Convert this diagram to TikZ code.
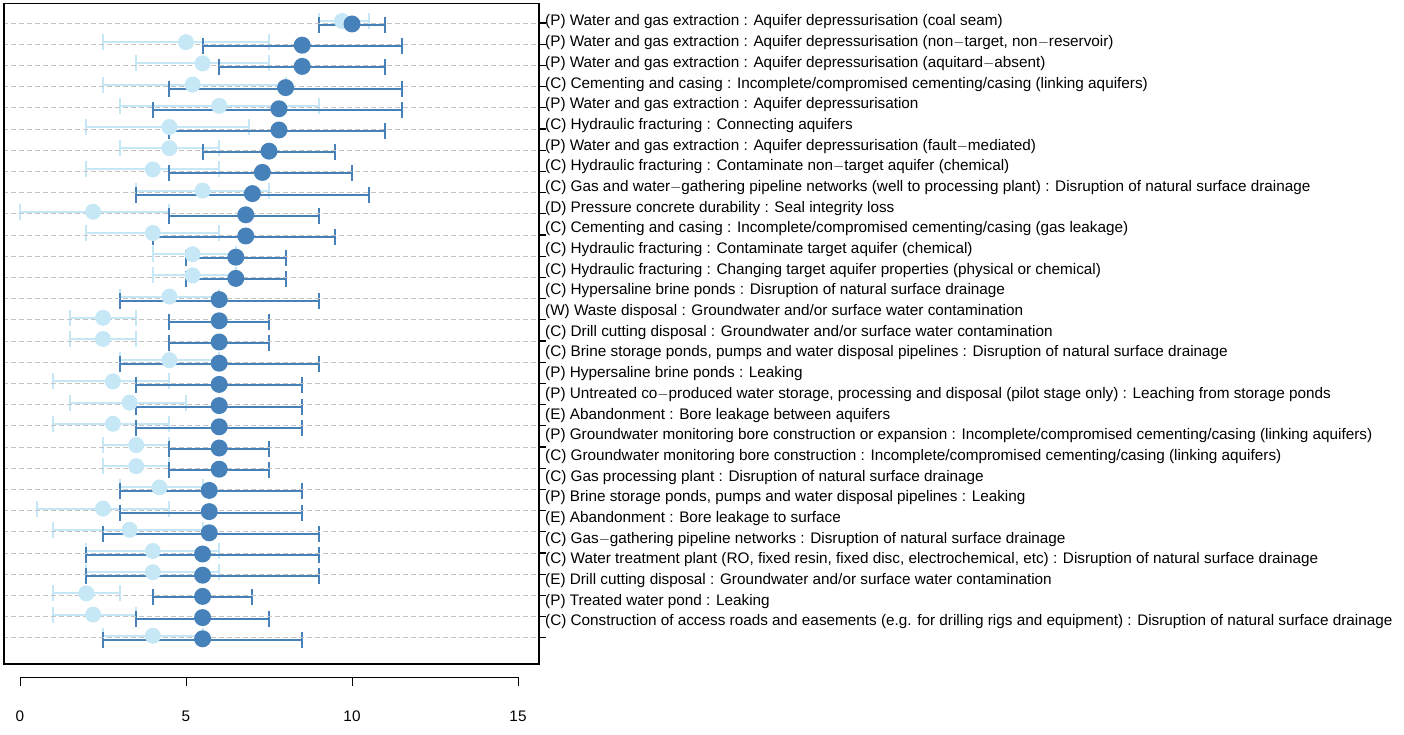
\documentclass[tikz,border=0pt]{standalone}
\usepackage{fontspec}
\setmainfont{Liberation Sans}
\definecolor{dk}{RGB}{70,130,185}
\definecolor{lt}{RGB}{198,232,246}
\definecolor{gr}{RGB}{195,195,195}
\begin{document}
\begin{tikzpicture}[x=1pt,y=-1pt,
  lab/.style={anchor=west,inner sep=0pt,font=\fontsize{15.3}{17}\selectfont},
  dkbar/.style={dk,line width=2pt},
  ltbar/.style={lt,line width=2pt},
  grid/.style={gr,dashed,line width=0.8pt,dash pattern=on 5pt off 3pt}]
\useasboundingbox (0,0) rectangle (1404,735);
% data: row, dark mean, lo, hi, light mean, lo, hi
\def\data{1/10/9/11/9.7/9/10.5, 2/8.5/5.5/11.5/5/2.5/7.5, 3/8.5/6/11/5.5/3.5/7.5, 4/8/4.5/11.5/5.2/2.5/8, 5/7.8/4/11.5/6/3/9, 6/7.8/4.5/11/4.5/2/6.9, 7/7.5/5.5/9.5/4.5/3/6, 8/7.3/4.5/10/4/2/6, 9/7/3.5/10.5/5.5/3.5/7.5, 10/6.8/4.5/9/2.2/0/4.5, 11/6.8/4/9.5/4/2/6, 12/6.5/5/8/5.2/4/6.5, 13/6.5/5/8/5.2/4/6.5, 14/6/3/9/4.5/3/6, 15/6/4.5/7.5/2.5/1.5/3.5, 16/6/4.5/7.5/2.5/1.5/3.5, 17/6/3/9/4.5/3/6, 18/6/3.5/8.5/2.8/1/4.5, 19/6/3.5/8.5/3.3/1.5/5, 20/6/3.5/8.5/2.8/1/4.5, 21/6/4.5/7.5/3.5/2.5/4.5, 22/6/4.5/7.5/3.5/2.5/4.5, 23/5.7/3/8.5/4.2/3/5.5, 24/5.7/3/8.5/2.5/0.5/4.5, 25/5.7/2.5/9/3.3/1/5.5, 26/5.5/2/9/4/2/6, 27/5.5/2/9/4/2/6, 28/5.5/4/7/2/1/3, 29/5.5/3.5/7.5/2.2/1/3.5, 30/5.5/2.5/8.5/4/2.5/5.5}
\pgfmathsetmacro{\sx}{33.2}
% light bars
\foreach \r/\m/\l/\h/\lm/\ll/\lh in \data {
  \pgfmathsetmacro{\yy}{23+21.2*(\r-1)-2}
  \draw[ltbar] ({20+\sx*\ll},\yy) -- ({20+\sx*\lh},\yy);
  \draw[ltbar] ({20+\sx*\ll},\yy-8) -- ({20+\sx*\ll},\yy+8);
  \draw[ltbar] ({20+\sx*\lh},\yy-8) -- ({20+\sx*\lh},\yy+8);
}
% dark bars
\foreach \r/\m/\l/\h/\lm/\ll/\lh in \data {
  \pgfmathsetmacro{\yy}{23+21.2*(\r-1)+2}
  \draw[dkbar] ({20+\sx*\l},\yy) -- ({20+\sx*\h},\yy);
  \draw[dkbar] ({20+\sx*\l},\yy-8) -- ({20+\sx*\l},\yy+8);
  \draw[dkbar] ({20+\sx*\h},\yy-8) -- ({20+\sx*\h},\yy+8);
}
% grid and ticks
\foreach \r in {1,...,30} {
  \pgfmathsetmacro{\yy}{23+21.2*(\r-1)}
  \draw[grid] (3,\yy) -- (538,\yy);
  \draw[line width=1.2pt] (538,\yy) -- (546,\yy);
}
% dots
\foreach \r/\m/\l/\h/\lm/\ll/\lh in \data {
  \pgfmathsetmacro{\yy}{23+21.2*(\r-1)}
  \fill[lt] ({20+\sx*\lm},\yy-2) circle (8);
  \fill[dk] ({20+\sx*\m},\yy+1) circle (8.5);
}
% frame
\node[draw,line width=1.5pt,minimum width=535pt,minimum height=660pt,inner sep=0pt,anchor=north west] (frame) at (3,3) {};
% x axis
\draw[line width=1pt] (20,677) -- (518,677);
\foreach \v in {0,5,10,15} {
  \draw[line width=1pt] ({20+\sx*\v},677) -- ({20+\sx*\v},686);
  \node[lab,anchor=center] (t\v) at ({20+\sx*\v},716) {\v};
}
% labels
\foreach \t [count=\i] in {
(P) Water and gas extraction : Aquifer depressurisation (coal seam),
(P) Water and gas extraction : Aquifer depressurisation (non\(-\)target{,} non\(-\)reservoir),
(P) Water and gas extraction : Aquifer depressurisation (aquitard\(-\)absent),
(C) Cementing and casing : Incomplete/compromised cementing/casing (linking aquifers),
(P) Water and gas extraction : Aquifer depressurisation,
(C) Hydraulic fracturing : Connecting aquifers,
(P) Water and gas extraction : Aquifer depressurisation (fault\(-\)mediated),
(C) Hydraulic fracturing : Contaminate non\(-\)target aquifer (chemical),
(C) Gas and water\(-\)gathering pipeline networks (well to processing plant) : Disruption of natural surface drainage,
(D) Pressure concrete durability : Seal integrity loss,
(C) Cementing and casing : Incomplete/compromised cementing/casing (gas leakage),
(C) Hydraulic fracturing : Contaminate target aquifer (chemical),
(C) Hydraulic fracturing : Changing target aquifer properties (physical or chemical),
(C) Hypersaline brine ponds : Disruption of natural surface drainage,
(W) Waste disposal : Groundwater and/or surface water contamination,
(C) Drill cutting disposal : Groundwater and/or surface water contamination,
(C) Brine storage ponds{,} pumps and water disposal pipelines : Disruption of natural surface drainage,
(P) Hypersaline brine ponds : Leaking,
(P) Untreated co\(-\)produced water storage{,} processing and disposal (pilot stage only) : Leaching from storage ponds,
(E) Abandonment : Bore leakage between aquifers,
(P) Groundwater monitoring bore construction or expansion : Incomplete/compromised cementing/casing (linking aquifers),
(C) Groundwater monitoring bore construction : Incomplete/compromised cementing/casing (linking aquifers),
(C) Gas processing plant : Disruption of natural surface drainage,
(P) Brine storage ponds{,} pumps and water disposal pipelines : Leaking,
(E) Abandonment : Bore leakage to surface,
(C) Gas\(-\)gathering pipeline networks : Disruption of natural surface drainage,
(C) Water treatment plant (RO{,} fixed resin{,} fixed disc{,} electrochemical{,} etc) : Disruption of natural surface drainage,
(E) Drill cutting disposal : Groundwater and/or surface water contamination,
(P) Treated water pond : Leaking,
(C) Construction of access roads and easements (e.g. for drilling rigs and equipment) : Disruption of natural surface drainage}
{
  \pgfmathsetmacro{\yy}{22+20.69*(\i-1)}
  \node[lab] (l\i) at (545,\yy) {\t};
}
\end{tikzpicture}
\end{document}
